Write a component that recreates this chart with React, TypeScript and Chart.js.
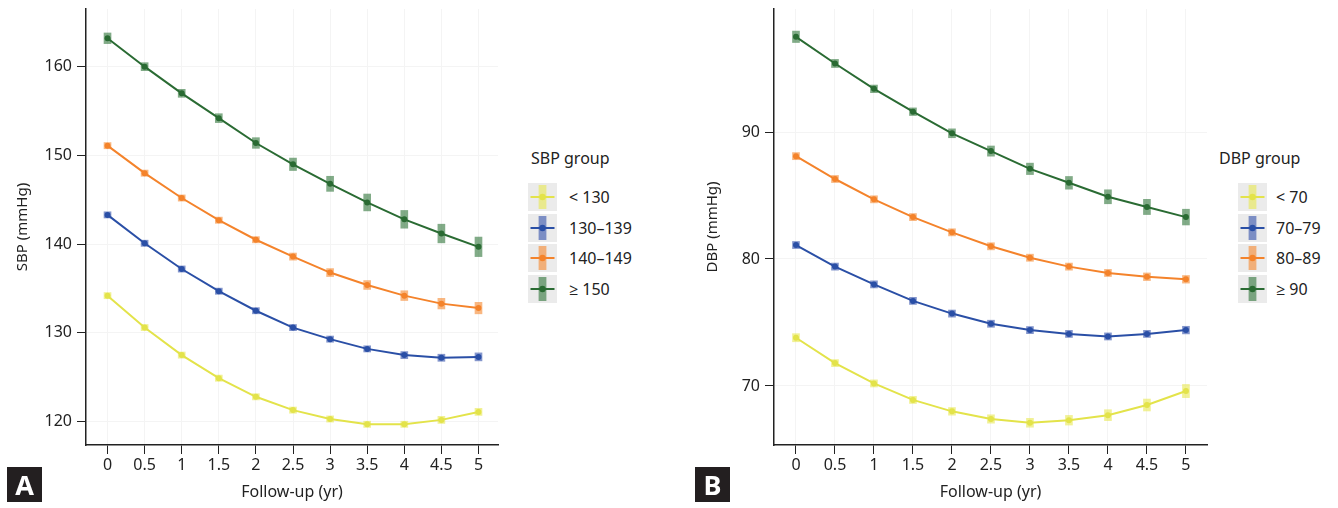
import React, { useEffect, useRef } from "react";
import { Chart, registerables } from "chart.js";
Chart.register(...registerables);

// ---------- data ----------
const years = [0, 0.5, 1, 1.5, 2, 2.5, 3, 3.5, 4, 4.5, 5];
const xTicks = [0, 0.5, 1, 1.5, 2, 2.5, 3, 3.5, 4, 4.5, 5];
const sbpTicks = [120, 130, 140, 150, 160];
const dbpTicks = [70, 80, 90];

const sbpGroups = ["< 130", "130–139", "140–149", "≥ 150"];
const dbpGroups = ["< 70", "70–79", "80–89", "≥ 90"];

const sbpLt130 = [134.2, 130.6, 127.5, 124.9, 122.8, 121.3, 120.3, 119.7, 119.7, 120.2, 121.1];
const sbp130to139 = [143.3, 140.1, 137.2, 134.7, 132.5, 130.6, 129.3, 128.2, 127.5, 127.2, 127.3];
const sbp140to149 = [151.1, 148.0, 145.2, 142.7, 140.5, 138.6, 136.8, 135.4, 134.2, 133.3, 132.8];
const sbpGe150 = [163.2, 160.0, 157.0, 154.2, 151.4, 149.0, 146.8, 144.7, 142.8, 141.2, 139.7];

const sbpLt130Ci = [0.35, 0.35, 0.35, 0.35, 0.35, 0.35, 0.35, 0.35, 0.35, 0.4, 0.4];
const sbp130to139Ci = [0.35, 0.35, 0.35, 0.35, 0.35, 0.35, 0.35, 0.35, 0.4, 0.4, 0.45];
const sbp140to149Ci = [0.35, 0.35, 0.35, 0.35, 0.35, 0.4, 0.45, 0.5, 0.55, 0.6, 0.65];
const sbpGe150Ci = [0.6, 0.45, 0.45, 0.5, 0.6, 0.7, 0.85, 0.95, 1.0, 1.05, 1.1];

const dbpLt70 = [73.8, 71.8, 70.2, 68.9, 68.0, 67.4, 67.1, 67.3, 67.7, 68.5, 69.6];
const dbp70to79 = [81.1, 79.4, 78.0, 76.7, 75.7, 74.9, 74.4, 74.1, 73.9, 74.1, 74.4];
const dbp80to89 = [88.1, 86.3, 84.7, 83.3, 82.1, 81.0, 80.1, 79.4, 78.9, 78.6, 78.4];
const dbpGe90 = [97.5, 95.4, 93.4, 91.6, 89.9, 88.5, 87.1, 86.0, 84.9, 84.1, 83.3];

const dbpLt70Ci = [0.32, 0.28, 0.28, 0.28, 0.3, 0.33, 0.35, 0.38, 0.43, 0.47, 0.52];
const dbp70to79Ci = [0.28, 0.28, 0.28, 0.28, 0.28, 0.28, 0.28, 0.28, 0.28, 0.28, 0.3];
const dbp80to89Ci = [0.28, 0.28, 0.28, 0.28, 0.28, 0.28, 0.28, 0.28, 0.28, 0.3, 0.3];
const dbpGe90Ci = [0.45, 0.32, 0.3, 0.3, 0.35, 0.4, 0.45, 0.5, 0.55, 0.6, 0.62];

// ---------- styles ----------
const FONT = "'Noto Sans', 'Open Sans', sans-serif";
const TEXT = "#222";
const lineColors = ["#e3e34a", "#2a4fa6", "#f4832b", "#2a6b33"];
const barColors = [
  "rgba(232,232,80,0.6)",
  "rgba(50,80,170,0.6)",
  "rgba(245,135,45,0.6)",
  "rgba(45,115,55,0.6)",
];

function buildDatasets(series: number[][], cis: number[][], labels: string[]) {
  const ds: any[] = [];
  series.forEach((vals, g) => {
    ds.push({
      type: "bar",
      label: labels[g] + " CI",
      data: years.map((x, i) => ({ x, y: [vals[i] - cis[g][i], vals[i] + cis[g][i]] })),
      backgroundColor: barColors[g],
      borderWidth: 0,
      barThickness: 7,
      grouped: false,
      order: 2,
    });
    ds.push({
      type: "line",
      label: labels[g],
      data: years.map((x, i) => ({ x, y: vals[i] })),
      borderColor: lineColors[g],
      backgroundColor: lineColors[g],
      borderWidth: 2,
      pointRadius: 3,
      pointBorderWidth: 0,
      pointBackgroundColor: lineColors[g],
      tension: 0,
      order: 1,
    });
  });
  return ds;
}

interface PanelCfg {
  series: number[][];
  cis: number[][];
  labels: string[];
  yTicks: number[];
  yMin: number;
  yMax: number;
  xMin: number;
  xMax: number;
  yTitle: string;
  yAxisWidth: number;
  padRight: number;
}

function ChartPanel({ cfg, width, height }: { cfg: PanelCfg; width: number; height: number }) {
  const ref = useRef<HTMLCanvasElement | null>(null);
  useEffect(() => {
    if (!ref.current) return;
    const tickFont = { family: FONT, size: 16 };
    const chart = new Chart(ref.current, {
      type: "line",
      data: { datasets: buildDatasets(cfg.series, cfg.cis, cfg.labels) },
      options: {
        animation: false,
        responsive: false,
        devicePixelRatio: 1,
        layout: { padding: { top: 9, right: cfg.padRight, bottom: 0, left: 0 } },
        plugins: { legend: { display: false }, tooltip: { enabled: false } },
        scales: {
          x: {
            type: "linear",
            min: cfg.xMin,
            max: cfg.xMax,
            offset: false,
            afterBuildTicks: (s: any) => {
              s.ticks = xTicks.map((v) => ({ value: v }));
            },
            afterFit: (s: any) => {
              s.height = 63;
              s.paddingLeft = 0;
              s.paddingRight = 0;
            },
            ticks: {
              includeBounds: false,
              color: TEXT,
              font: tickFont,
              padding: 2,
              autoSkip: false,
              maxRotation: 0,
              callback: (v: any) => String(v),
            },
            grid: {
              offset: false,
              color: "#f4f4f4",
              tickColor: "#222",
              tickLength: 9,
              lineWidth: 1,
            },
            border: { color: "#222", width: 1.5 },
            title: {
              display: true,
              text: "Follow-up (yr)",
              color: TEXT,
              font: tickFont,
              padding: { top: 0, bottom: 6 },
            },
          },
          y: {
            type: "linear",
            min: cfg.yMin,
            max: cfg.yMax,
            afterBuildTicks: (s: any) => {
              s.ticks = cfg.yTicks.map((v) => ({ value: v }));
            },
            afterFit: (s: any) => {
              s.width = cfg.yAxisWidth;
              s.paddingTop = 0;
              s.paddingBottom = 0;
            },
            ticks: { includeBounds: false, color: TEXT, font: tickFont, padding: 5, callback: (v: any) => String(v) },
            grid: {
              offset: false,
              color: "#f4f4f4",
              tickColor: "#222",
              tickLength: 9,
              lineWidth: 1,
            },
            border: { color: "#222", width: 1.5 },
            title: {
              display: true,
              text: cfg.yTitle,
              color: TEXT,
              font: { family: FONT, size: 15 },
              padding: { top: 14, bottom: 0 },
            },
          },
        },
      } as any,
    });
    return () => chart.destroy();
  }, [cfg]);
  return <canvas ref={ref} width={width} height={height} style={{ width, height, display: "block" }} />;
}

function LegendKey({ g }: { g: number }) {
  return (
    <svg width={29} height={28} style={{ display: "block" }}>
      <rect x={0} y={0} width={29} height={28} fill="#ebebeb" />
      <rect x={10.6} y={2} width={7.8} height={24} fill={barColors[g]} />
      <line x1={2.5} x2={26.5} y1={14} y2={14} stroke={lineColors[g]} strokeWidth={2} />
      <circle cx={14.5} cy={14} r={3.2} fill={lineColors[g]} />
    </svg>
  );
}

function Legend({ left, keyLeft, labelLeft, title, labels }: { left: number; keyLeft: number; labelLeft: number; title: string; labels: string[] }) {
  const rowTops = [183, 213.5, 244, 274.5];
  return (
    <>
      <div style={{ position: "absolute", left, top: 146, fontSize: 16, lineHeight: "24px", color: TEXT, whiteSpace: "nowrap" }}>
        {title}
      </div>
      {labels.map((lab, g) => (
        <React.Fragment key={lab}>
          <div style={{ position: "absolute", left: keyLeft, top: rowTops[g] }}>
            <LegendKey g={g} />
          </div>
          <div style={{ position: "absolute", left: labelLeft, top: rowTops[g] + 2, fontSize: 16, lineHeight: "24px", color: TEXT, whiteSpace: "nowrap" }}>
            {lab}
          </div>
        </React.Fragment>
      ))}
    </>
  );
}

function PanelTag({ left, text }: { left: number; text: string }) {
  return (
    <div
      style={{
        position: "absolute",
        left,
        top: 467,
        width: 35,
        height: 35,
        background: "#231f20",
        color: "#fff",
        fontWeight: 700,
        fontSize: 27,
        lineHeight: "35px",
        textAlign: "center",
      }}
    >
      {text}
    </div>
  );
}

const sbpCfg: PanelCfg = {
  series: [sbpLt130, sbp130to139, sbp140to149, sbpGe150],
  cis: [sbpLt130Ci, sbp130to139Ci, sbp140to149Ci, sbpGe150Ci],
  labels: sbpGroups,
  yTicks: sbpTicks,
  yMin: 117.37,
  yMax: 166.5,
  xMin: -0.29,
  xMax: 5.263,
  yTitle: "SBP (mmHg)",
  yAxisWidth: 86,
  padRight: 7,
};

const dbpCfg: PanelCfg = {
  series: [dbpLt70, dbp70to79, dbp80to89, dbpGe90],
  cis: [dbpLt70Ci, dbp70to79Ci, dbp80to89Ci, dbpGe90Ci],
  labels: dbpGroups,
  yTicks: dbpTicks,
  yMin: 65.35,
  yMax: 99.69,
  xMin: -0.282,
  xMax: 5.27,
  yTitle: "DBP (mmHg)",
  yAxisWidth: 84,
  padRight: 8,
};

export default function App() {
  return (
    <div
      style={{
        position: "absolute",
        left: 0,
        top: 0,
        width: 1338,
        height: 508,
        background: "#fff",
        fontFamily: FONT,
        overflow: "hidden",
      }}
    >
      <div style={{ position: "absolute", left: 0, top: 0 }}>
        <ChartPanel cfg={sbpCfg} width={505} height={508} />
      </div>
      <div style={{ position: "absolute", left: 690, top: 0 }}>
        <ChartPanel cfg={dbpCfg} width={525} height={508} />
      </div>
      <Legend left={531} keyLeft={528} labelLeft={569} title="SBP group" labels={sbpGroups} />
      <Legend left={1219} keyLeft={1238} labelLeft={1276} title="DBP group" labels={dbpGroups} />
      <PanelTag left={7} text="A" />
      <PanelTag left={695} text="B" />
    </div>
  );
}
